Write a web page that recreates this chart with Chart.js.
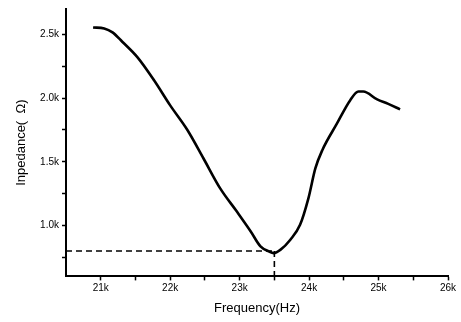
<!DOCTYPE html>
<html lang="en">

<head>
    <meta charset="UTF-8">
    <script src="https://cdn.jsdelivr.net/npm/chart.js"></script>
    <title>Impedance</title>
    <style>
        html, body { margin: 0; padding: 0; background: #fff; }
        #grafico { width: 461px; height: 322px; }
    </style>
</head>

<body>
    <div id="grafico">
        <canvas id="myChart"></canvas>
    </div>

    <script>
        // curva de impedância
        const frequencia = [20890, 21050, 21170, 21310, 21530, 21770, 22000, 22250, 22480, 22720, 22960, 23160,
            23300, 23420, 23490, 23590, 23730, 23870, 23990, 24090, 24190, 24400, 24590, 24710, 24780, 24980, 25140, 25310]
        const impedancia = [2555, 2547, 2516, 2443, 2320, 2138, 1943, 1748, 1526, 1291, 1109, 953,
            836, 797, 783, 810, 888, 1005, 1213, 1448, 1591, 1799, 1982, 2052, 2052, 1990, 1955, 1912]

        // ponto de ressonância marcado com as linhas tracejadas
        const freqRessonancia = 23500
        const impRessonancia = 800

        const xMin = 20500, xMax = 26000
        const yMin = 600, yMax = 2700
        const xTicksMaiores = [21000, 22000, 23000, 24000, 25000, 26000]
        const yTicksMaiores = [1000, 1500, 2000, 2500]

        const fonte = "'Liberation Sans', Arial, sans-serif"

        const pontos = frequencia.map((f, i) => ({ x: f, y: impedancia[i] }))

        const data = {
            datasets: [{
                data: pontos,
                borderColor: '#000',
                borderWidth: 2.6,
                pointRadius: 0,
                cubicInterpolationMode: 'monotone',
            }, {
                data: [{ x: xMin, y: impRessonancia }, { x: freqRessonancia, y: impRessonancia }],
                borderColor: '#000',
                borderWidth: 1.6,
                borderDash: [6, 4],
                pointRadius: 0,
            }, {
                data: [{ x: freqRessonancia, y: impRessonancia }, { x: freqRessonancia, y: yMin }],
                borderColor: '#000',
                borderWidth: 1.6,
                borderDash: [6, 4],
                pointRadius: 0,
            }]
        };

        const config = {
            type: 'line',
            data: data,
            options: {
                responsive: true,
                maintainAspectRatio: false,
                animation: false,
                layout: { padding: { top: 4, right: 13, left: 0, bottom: 6 } },
                plugins: { legend: { display: false }, tooltip: { enabled: false } },
                scales: {
                    x: {
                        type: 'linear',
                        min: xMin,
                        max: xMax,
                        afterBuildTicks: function (scale) {
                            let lista = []
                            for (let v = 21000; v <= xMax; v += 500) lista.push({ value: v })
                            scale.ticks = lista
                        },
                        ticks: {
                            color: '#000',
                            font: { family: fonte, size: 10 },
                            padding: 2,
                            maxRotation: 0,
                            autoSkip: false,
                            callback: function (v) {
                                return xTicksMaiores.includes(v) ? (v / 1000) + 'k' : ''
                            }
                        },
                        grid: { display: true, drawOnChartArea: false, color: '#000', tickLength: 4, tickWidth: 1.5 },
                        border: { display: true, color: '#000', width: 2 },
                        title: {
                            display: true,
                            text: 'Frequency(Hz)',
                            color: '#000',
                            font: { family: fonte, size: 13 },
                            padding: { top: 4, bottom: 0 }
                        }
                    },
                    y: {
                        type: 'linear',
                        min: yMin,
                        max: yMax,
                        afterBuildTicks: function (scale) {
                            let lista = []
                            for (let v = 750; v <= yMax; v += 250) lista.push({ value: v })
                            scale.ticks = lista
                        },
                        afterFit: function (scale) { scale.width = 66 },
                        ticks: {
                            color: '#000',
                            font: { family: fonte, size: 10 },
                            padding: 3,
                            autoSkip: false,
                            callback: function (v) {
                                return yTicksMaiores.includes(v) ? (v / 1000).toFixed(1) + 'k' : ''
                            }
                        },
                        grid: { display: true, drawOnChartArea: false, color: '#000', tickLength: 4, tickWidth: 1.5 },
                        border: { display: true, color: '#000', width: 2 },
                        title: {
                            display: true,
                            text: 'Inpedance(  Ω)',
                            color: '#000',
                            font: { family: fonte, size: 13 },
                            padding: { top: 14, bottom: 0 }
                        }
                    }
                }
            }
        };

        var myChart = new Chart(document.getElementById('myChart'), config)
    </script>
</body>

</html>
